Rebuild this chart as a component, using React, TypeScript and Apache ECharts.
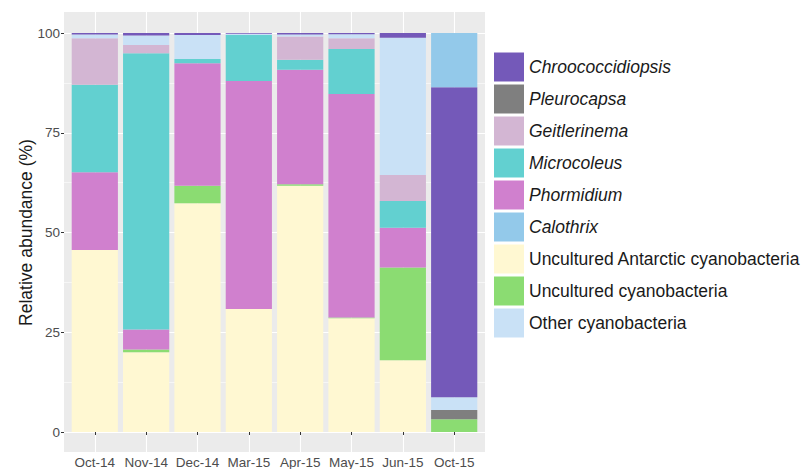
import React, { useEffect, useRef } from "react";
import * as echarts from "echarts";

const categories = ["Oct-14", "Nov-14", "Dec-14", "Mar-15", "Apr-15", "May-15", "Jun-15", "Oct-15"];
const yTicks = [0, 25, 50, 75, 100];

// stacked bottom -> top
const uncAntarctic = [45.6, 20.0, 57.3, 30.8, 61.7, 28.5, 18.0, 0];
const uncCyano = [0, 0.7, 4.4, 0, 0.4, 0.2, 23.2, 3.2];
const pleurocapsa = [0, 0, 0, 0, 0, 0, 0, 2.3];
const phormidium = [19.5, 5.0, 30.7, 57.2, 28.7, 56.0, 10.0, 0];
const microcoleus = [21.9, 69.2, 1.1, 11.5, 2.5, 11.3, 6.7, 0];
const geitlerinema = [11.7, 2.1, 0, 0, 5.8, 2.7, 6.5, 0];
const otherCyano = [0.9, 2.4, 6.0, 0.3, 0.5, 1.0, 34.4, 3.2];
const chroococcidiopsis = [0.4, 0.6, 0.5, 0.2, 0.4, 0.3, 1.2, 77.7];
const calothrix = [0, 0, 0, 0, 0, 0, 0, 13.6];

const stackSeries = [
  { name: "Uncultured Antarctic cyanobacteria", data: uncAntarctic, color: "#FFF8D2" },
  { name: "Uncultured cyanobacteria", data: uncCyano, color: "#8BDC72" },
  { name: "Pleurocapsa", data: pleurocapsa, color: "#7F7F7F" },
  { name: "Phormidium", data: phormidium, color: "#D080CE" },
  { name: "Microcoleus", data: microcoleus, color: "#62D0D0" },
  { name: "Geitlerinema", data: geitlerinema, color: "#D3B6D3" },
  { name: "Other cyanobacteria", data: otherCyano, color: "#C9E1F6" },
  { name: "Chroococcidiopsis", data: chroococcidiopsis, color: "#7459B9" },
  { name: "Calothrix", data: calothrix, color: "#93C9EA" },
];

const legendOrder = [
  { name: "Chroococcidiopsis", italic: true },
  { name: "Pleurocapsa", italic: true },
  { name: "Geitlerinema", italic: true },
  { name: "Microcoleus", italic: true },
  { name: "Phormidium", italic: true },
  { name: "Calothrix", italic: true },
  { name: "Uncultured Antarctic cyanobacteria", italic: false },
  { name: "Uncultured cyanobacteria", italic: false },
  { name: "Other cyanobacteria", italic: false },
];

const FONT = "'Liberation Sans', Arial, Helvetica, sans-serif";

export default function App() {
  const ref = useRef<HTMLDivElement>(null);

  useEffect(() => {
    document.body.style.margin = "0";
    if (!ref.current) return;
    const chart = echarts.init(ref.current, null, { renderer: "svg" });

    // panel geometry
    const pL = 64, pR = 485, pT = 12, pB = 452;
    const y0 = 432, y100 = 33;
    const W = 807, H = 469;
    const u = (pR - pL) / 8.2;

    const option: any = {
      animation: false,
      textStyle: { fontFamily: FONT },
      grid: [
        // 0: panel background
        { left: pL, right: W - pR, top: pT, bottom: H - pB, show: true, backgroundColor: "#EBEBEB", borderWidth: 0 },
        // 1: horizontal gridlines + y labels
        { left: pL, right: W - pR, top: y100, bottom: H - y0 },
        // 2: vertical gridlines (shifted half band)
        { left: pL - 0.4 * u, right: W - (pL + 7.6 * u), top: pT, bottom: H - pB },
        // 3: bars
        { left: pL + 0.1 * u, right: W - (pR - 0.1 * u), top: y100, bottom: H - y0 },
      ],
      xAxis: [
        { gridIndex: 0, type: "value", min: 0, max: 1, show: false },
        { gridIndex: 1, type: "value", min: 0, max: 1, show: false },
        {
          gridIndex: 2,
          type: "category",
          data: categories,
          boundaryGap: true,
          axisLine: { show: false },
          axisTick: { show: false },
          axisLabel: { show: false },
          splitLine: { show: true, interval: 0, showMinLine: false, showMaxLine: true, lineStyle: { color: "#FFFFFF", width: 1.1 } },
        },
        {
          gridIndex: 3,
          type: "category",
          data: categories,
          offset: pB - y0,
          axisLine: { show: false },
          axisTick: { show: true, alignWithLabel: true, length: 3, lineStyle: { color: "#333333", width: 1 } },
          axisLabel: { show: true, interval: 0, margin: 3, color: "#4D4D4D", fontSize: 13.5, fontFamily: FONT },
          splitLine: { show: false },
        },
      ],
      yAxis: [
        { gridIndex: 0, type: "value", min: 0, max: 1, show: false },
        {
          gridIndex: 1,
          type: "value",
          min: yTicks[0],
          max: yTicks[yTicks.length - 1],
          interval: 25,
          name: "Relative abundance (%)",
          nameLocation: "middle",
          nameRotate: 90,
          nameGap: 29,
          nameMoveOverlap: false,
          nameTextStyle: { color: "#1A1A1A", fontSize: 17.5, fontFamily: FONT },
          axisLine: { show: false },
          axisTick: { show: true, length: 3, lineStyle: { color: "#333333", width: 1 } },
          axisLabel: { show: true, margin: 4, color: "#4D4D4D", fontSize: 13.5, fontFamily: FONT },
          splitLine: { show: true, lineStyle: { color: "#FFFFFF", width: 1.1 } },
          minorTick: { show: false, splitNumber: 2 },
          minorSplitLine: { show: true, lineStyle: { color: "#FFFFFF", width: 0.55 } },
        },
        { gridIndex: 2, type: "value", min: 0, max: 1, show: false },
        { gridIndex: 3, type: "value", min: 0, max: 100, show: false },
      ],
      legend: {
        orient: "vertical",
        left: 494,
        top: 52.5,
        padding: 0,
        icon: "rect",
        itemWidth: 30,
        itemHeight: 29,
        itemGap: 3,
        selectedMode: false,
        textStyle: { color: "#1A1A1A", fontSize: 17.5, fontFamily: FONT },
        data: legendOrder.map((l) => ({
          name: l.name,
          textStyle: { fontStyle: l.italic ? "italic" : "normal" },
        })),
      },
      series: stackSeries.map((s) => ({
        type: "bar",
        name: s.name,
        xAxisIndex: 3,
        yAxisIndex: 3,
        stack: "total",
        barCategoryGap: "10%",
        data: s.data,
        itemStyle: { color: s.color },
        emphasis: { disabled: true },
        silent: true,
      })),
    };

    chart.setOption(option);
    return () => chart.dispose();
  }, []);

  return (
    <div
      ref={ref}
      style={{ position: "absolute", left: 0, top: 0, width: 807, height: 469 }}
    />
  );
}
